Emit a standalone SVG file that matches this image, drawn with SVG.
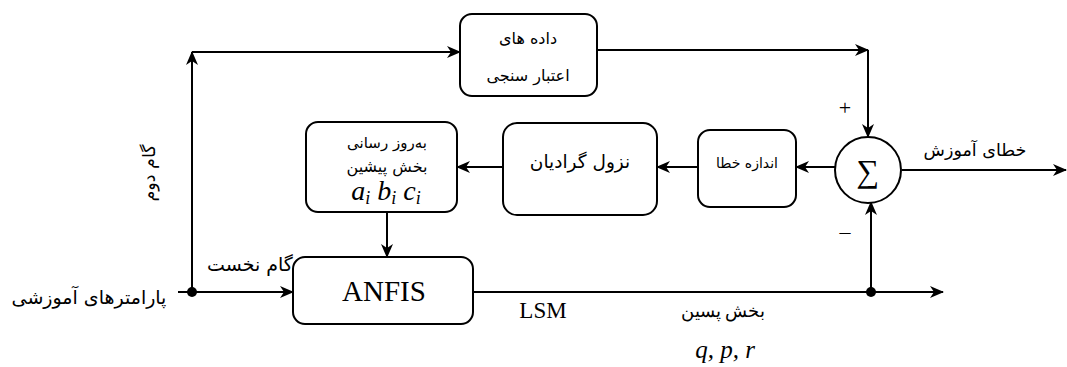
<svg xmlns="http://www.w3.org/2000/svg" width="1067" height="367" viewBox="0 0 1067 367">
<defs>
<style>
.box{fill:#fff;stroke:#000;stroke-width:2}
.ln{fill:none;stroke:#000;stroke-width:2}
.fa{font-family:"DejaVu Sans","Noto Sans",sans-serif;fill:#000;text-anchor:middle}
.fs{font-family:"Liberation Serif",serif;fill:#000;text-anchor:middle}
.it{font-style:italic}
</style>
<marker id="arr" markerUnits="userSpaceOnUse" markerWidth="14" markerHeight="12" viewBox="0 0 14 12" refX="13" refY="6" orient="auto">
<path d="M0,0 L14,6 L0,12 L4,6 Z" fill="#000"/>
</marker>
</defs>
<rect width="1067" height="367" fill="#fff"/>
<g id="connectors">
<path class="ln" d="M192,292 L192,52" marker-end="url(#arr)"/>
<path class="ln" d="M192,52 L460,52" marker-end="url(#arr)"/>
<path class="ln" d="M597,50 L868,50" marker-end="url(#arr)"/>
<path class="ln" d="M868,50 L868,137" marker-end="url(#arr)"/>
<path class="ln" d="M835,167 L796,167" marker-end="url(#arr)"/>
<path class="ln" d="M698,167 L657,167" marker-end="url(#arr)"/>
<path class="ln" d="M503,167 L457,167" marker-end="url(#arr)"/>
<path class="ln" d="M387,212 L387,257" marker-end="url(#arr)"/>
<path class="ln" d="M178,292 L293,292" marker-end="url(#arr)"/>
<path class="ln" d="M473,292 L943,292" marker-end="url(#arr)"/>
<path class="ln" d="M871,292 L871,202" marker-end="url(#arr)"/>
<path class="ln" d="M902,170 L1066,170" marker-end="url(#arr)"/>
<circle cx="192" cy="292" r="5" fill="#000"/>
<circle cx="871" cy="292" r="5" fill="#000"/>
</g>
<g id="validation">
<rect class="box" x="460" y="14" width="137" height="82" rx="12"/>
<text class="fa" x="528" y="44" font-size="16">داده های</text>
<text class="fa" x="528" y="81" font-size="16">اعتبار سنجی</text>
</g>
<g id="update">
<rect class="box" x="306" y="122" width="151" height="90" rx="12"/>
<text class="fa" x="387" y="148" font-size="15">به‌روز رسانی</text>
<text class="fa" x="387" y="172" font-size="16">بخش پیشین</text>
<text class="fs it" x="386" y="200" font-size="28">a<tspan font-size="18" dy="4">i</tspan><tspan dy="-4"> b</tspan><tspan font-size="18" dy="4">i</tspan><tspan dy="-4"> c</tspan><tspan font-size="18" dy="4">i</tspan></text>
</g>
<g id="gradient">
<rect class="box" x="503" y="123" width="154" height="92" rx="14"/>
<text class="fa" x="580" y="168" font-size="18.5">نزول گرادیان</text>
</g>
<g id="error">
<rect class="box" x="698" y="130" width="98" height="77" rx="12"/>
<text class="fa" x="747" y="168" font-size="14">اندازه خطا</text>
</g>
<g id="sum">
<circle cx="868" cy="170" r="33" fill="#fff" stroke="#000" stroke-width="2"/>
<text class="fs" x="868" y="182" font-size="32">∑</text>
<text class="fs" x="845" y="115" font-size="22">+</text>
<text class="fs" x="845" y="239" font-size="22">–</text>
</g>
<g id="anfis">
<rect class="box" x="293" y="257" width="180" height="67" rx="12"/>
<text class="fs" x="384" y="301" font-size="29">ANFIS</text>
</g>
<g id="labels">
<text class="fa" x="89" y="304" font-size="19">پارامترهای آموزشی</text>
<text class="fa" x="250" y="271" font-size="19">گام نخست</text>
<text class="fa" transform="translate(155,173) rotate(-90)" font-size="17.5">گام دوم</text>
<text class="fa" x="975" y="156" font-size="17.5">خطای آموزش</text>
<text class="fs" x="543" y="318" font-size="23">LSM</text>
<text class="fs" x="723" y="317" font-size="18">بخش پسین</text>
<text class="fs it" x="725" y="358" font-size="25">q, p, r</text>
</g>
</svg>
